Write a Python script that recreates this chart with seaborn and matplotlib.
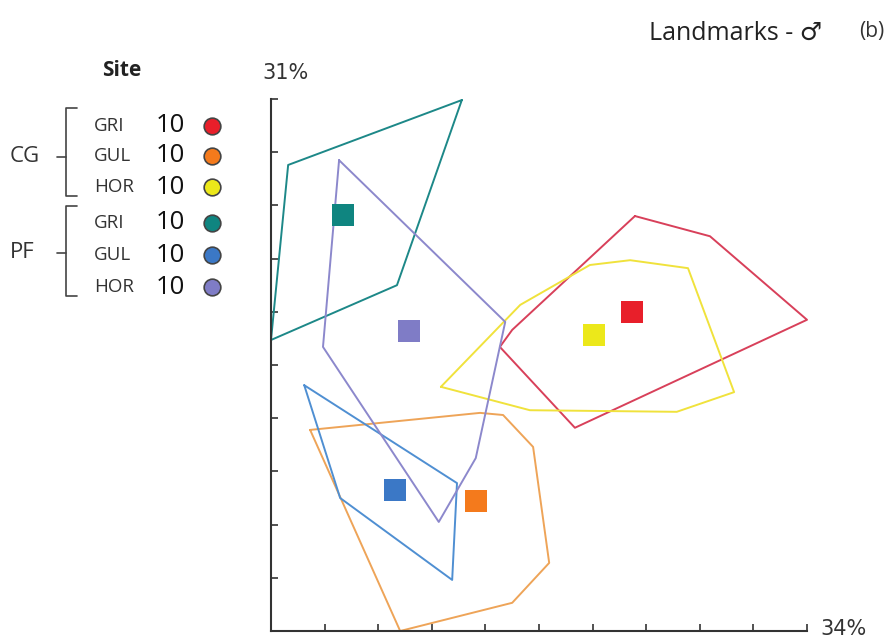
import numpy as np
import pandas as pd
import seaborn as sns
import matplotlib.pyplot as plt
from matplotlib.lines import Line2D

# groups, in legend order
groups = ['CG GRI', 'CG GUL', 'CG HOR', 'PF GRI', 'PF GUL', 'PF HOR']
sites = ['GRI', 'GUL', 'HOR', 'GRI', 'GUL', 'HOR']
counts = [10, 10, 10, 10, 10, 10]
fill_colors = ['#e81f2a', '#f47a1c', '#ece81a', '#0f8580', '#3b78c6', '#7f7cc6']
line_colors = ['#d8405a', '#eea458', '#f0e23c', '#1d8888', '#4f8fd2', '#8c88cc']

# convex hulls (axis units, 0..10 each way)
hull_x = {
    'CG GRI': [6.79, 8.19, 10.0, 5.67, 4.27, 4.50],
    'CG GUL': [0.73, 2.41, 4.50, 5.19, 4.89, 4.33, 3.90],
    'CG HOR': [3.17, 4.83, 7.57, 8.64, 7.78, 6.70, 5.95, 4.65],
    'PF GRI': [3.56, 0.32, 0.00, 2.35],
    'PF GUL': [0.62, 1.29, 3.38, 3.47],
    'PF HOR': [1.27, 0.97, 3.13, 3.82, 4.37],
}
hull_y = {
    'CG GRI': [7.80, 7.42, 5.85, 3.82, 5.34, 5.66],
    'CG GUL': [3.78, 0.00, 0.53, 1.28, 3.46, 4.06, 4.10],
    'CG HOR': [4.59, 4.15, 4.12, 4.49, 6.82, 6.97, 6.88, 6.13],
    'PF GRI': [9.98, 8.76, 5.47, 6.50],
    'PF GUL': [4.62, 2.50, 0.96, 2.78],
    'PF HOR': [8.85, 5.34, 2.05, 3.25, 5.81],
}

# group means
mean_x = [6.74, 3.82, 6.03, 1.34, 2.31, 2.57]
mean_y = [6.00, 2.44, 5.56, 7.82, 2.65, 5.64]

sns.set_style('white')
plt.rcParams['font.family'] = ['Open Sans', 'DejaVu Sans']

fig = plt.figure(figsize=(8.93, 6.39), dpi=100)
ax = fig.add_axes([271 / 893, 8 / 639, 536 / 893, 532 / 639])

for g, lc in zip(groups, line_colors):
    xs = hull_x[g] + hull_x[g][:1]
    ys = hull_y[g] + hull_y[g][:1]
    ax.plot(xs, ys, color=lc, lw=1.4, clip_on=False, zorder=2)

means = pd.DataFrame({'x': mean_x, 'y': mean_y, 'group': groups})
sns.scatterplot(data=means, x='x', y='y', hue='group', palette=fill_colors,
                marker='s', s=260, edgecolor='none', legend=False, ax=ax,
                clip_on=False, zorder=3)

ax.set_xlim(0, 10)
ax.set_ylim(0, 10)
ax.set_xticks(np.arange(0, 11))
ax.set_yticks(np.arange(0, 11))
ax.set_xticklabels([])
ax.set_yticklabels([])
ax.set_xlabel('')
ax.set_ylabel('')
ax.tick_params(direction='in', length=5, width=1.2, color='#333333',
               bottom=True, left=True)
sns.despine(ax=ax)
for side in ['left', 'bottom']:
    ax.spines[side].set_linewidth(1.5)
    ax.spines[side].set_color('#333333')

fig.text(286 / 893, 1 - 73 / 639, '31%', fontsize=15, ha='center', va='center',
         color='#333333', family='DejaVu Sans')
fig.text(843 / 893, 1 - 629 / 639, '34%', fontsize=15, ha='center', va='center',
         color='#333333', family='DejaVu Sans')

# title
fig.text(822 / 893, 1 - 33 / 639, 'Landmarks - \u2642', fontsize=18, ha='right',
         va='center', color='#222222', family=['Open Sans', 'DejaVu Sans'])
fig.text(872 / 893, 1 - 31 / 639, '(b)', fontsize=15, ha='center', va='center',
         color='#333333')

# legend block
fig.text(122 / 893, 1 - 70 / 639, 'Site', fontsize=15, fontweight='bold',
         ha='center', va='center', color='#222222')
row_y = [126, 156, 187, 223, 255, 287]
for site, n, fc, py in zip(sites, counts, fill_colors, row_y):
    yf = 1 - py / 639
    fig.text(94 / 893, yf, site, fontsize=13.5, ha='left', va='center', color='#333333')
    fig.text(170 / 893, yf, str(n), fontsize=18.5, ha='center', va='center', color='#111111')
    fig.add_artist(Line2D([212 / 893], [yf], marker='o', markersize=12,
                          markerfacecolor=fc, markeredgecolor='#444444',
                          markeredgewidth=1.2, transform=fig.transFigure))

for label, top, mid, bot in [('CG', 108, 157, 196), ('PF', 206, 253, 296)]:
    fig.text(10 / 893, 1 - mid / 639, label, fontsize=16, ha='left', va='center',
             color='#333333')
    bx = 66 / 893
    fig.add_artist(Line2D([77 / 893, bx, bx, 77 / 893],
                          [1 - top / 639, 1 - top / 639, 1 - bot / 639, 1 - bot / 639],
                          color='#444444', lw=1.2, transform=fig.transFigure))
    fig.add_artist(Line2D([57 / 893, bx], [1 - mid / 639, 1 - mid / 639],
                          color='#444444', lw=1.2, transform=fig.transFigure))

fig.savefig('out.png', dpi=100)
